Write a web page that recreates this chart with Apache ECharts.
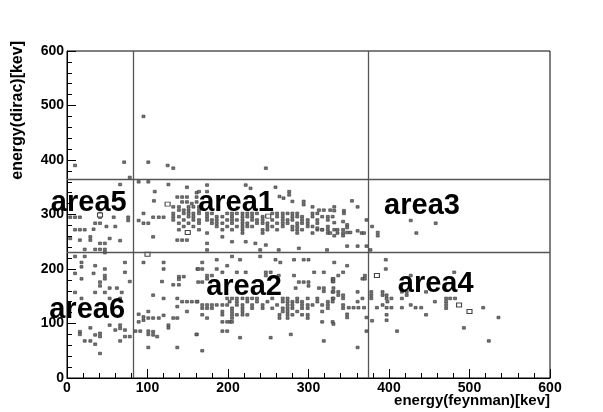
<!DOCTYPE html>
<html>
<head>
<meta charset="utf-8">
<script src="https://cdn.jsdelivr.net/npm/echarts@6/dist/echarts.min.js"></script>
<style>
html,body{margin:0;padding:0;background:#fff;}
#chart{width:603px;height:412px;}
</style>
</head>
<body>
<div id="chart"></div>
<script>
// Axis ranges and tick spacing (keV)
const axisMin = 0;
const axisMax = 600;
const tickStep = 100;

// Selection cuts drawn as lines
const cutFeynman = [82, 374];
const cutDirac = [230, 365];

// Region names and where they are written (keV)
const areaNames = ['area1', 'area2', 'area3', 'area4', 'area5', 'area6'];
const areaNameX = [210, 220, 441, 458, 27, 25];
const areaNameY = [321, 167, 316, 172, 321, 125];

// Occupied bins with one entry: [feynman, dirac] in keV
const singleEvents = [
  // above the upper cut
  [95,480],[10,390],[71,396],[101,396],[125,390],[132,385],[247,385],[78,368],
  // area5
  [66,355],[4,295],[10,295],[16,295],[41,302],[41,295],[58,295],[76,295],[76,289],[35,284],[41,284],
  [10,272],[16,272],[22,272],[33,273],[49,278],[60,278],[4,256],[16,253],[29,259],[29,253],[53,256],
  [66,252],[41,247],[47,247],[22,236],[35,236],[41,236],[47,236],[47,230],
  // area1, left part
  [89,360],[101,360],[126,355],[149,350],[109,342],[161,340],[161,332],[137,332],[143,332],[149,332],
  [108,325],[143,323],[149,323],[155,320],[161,323],[95,302],[107,295],[114,295],[120,295],[89,289],
  [95,284],[101,284],[107,259],[137,253],[143,253],[149,253],
  [132,314],[139,314],[151,314],[157,314],[164,314],
  [139,308],[145,308],[151,308],[164,308],
  [132,302],[145,302],[151,302],[157,302],[164,302],
  [132,296],[139,296],[151,296],[157,296],
  [132,290],[145,290],[157,290],[164,290],
  [139,284],[151,284],[164,284],
  [145,278],[157,278],[139,272],[164,272],
  // area1, centre
  [174,354],[222,354],[228,348],[259,350],[164,342],[174,342],[276,342],[276,336],[264,333],[269,330],
  [280,324],[294,324],[294,318],[305,314],[313,308],[319,308],[327,308],[332,314],
  [174,302],[180,302],[199,302],[205,302],[211,302],[218,302],[224,302],[230,302],[236,302],[255,302],[261,302],[268,302],[274,302],[280,302],[286,302],[305,302],[311,302],
  [174,296],[186,296],[193,296],[205,296],[218,296],[224,296],[230,296],[243,296],[249,296],[261,296],[268,296],[280,296],[286,296],[292,296],[305,296],[317,296],[324,296],[330,296],
  [174,290],[180,290],[186,290],[199,290],[205,290],[211,290],[218,290],[230,290],[236,290],[243,290],[255,290],[268,290],[274,290],[280,290],[292,290],[299,290],[311,290],[324,290],
  [180,284],[186,284],[193,284],[205,284],[218,284],[224,284],[236,284],[243,284],[249,284],[261,284],[268,284],[274,284],[286,284],[292,284],[299,284],[311,284],
  [186,278],[199,278],[211,278],[218,278],[224,278],[230,278],[249,278],[255,278],[268,278],[280,278],[286,278],[299,278],[305,278],[324,278],
  [193,272],[205,272],[218,272],[243,272],[249,272],[261,272],[280,272],[286,272],[292,272],[311,272],[317,272],
  [174,266],[218,266],[243,266],[286,266],[305,266],[324,266],
  [174,247],[193,259],[205,250],[222,250],[234,247],[247,244],[240,235],[174,235],[263,235],[288,238],[323,235],
  [327,266],[324,272],[317,272],[311,275],
  // area1, right part
  [354,325],[361,314],[332,307],[344,307],[344,302],[332,285],[343,287],[348,281],[348,276],
  [332,272],[336,272],[336,266],[343,272],[343,266],[348,267],[352,267],[361,270],[366,266],[369,266],[372,290],
  [332,261],[343,261],[348,242],[361,242],[372,242],[377,235],
  // area3
  [379,278],[386,267],[386,261],[427,289],[458,284],[434,266],
  // area6
  [22,223],[10,223],[18,212],[18,204],[35,206],[47,200],[72,212],[72,194],[33,192],[18,182],[10,192],
  [41,176],[41,169],[47,182],[47,188],[78,177],[53,165],[62,165],[35,157],[47,157],[68,157],[10,157],
  [18,146],[53,146],[66,146],[53,97],[60,88],[66,97],[66,91],[72,88],[72,76],[78,76],[41,82],[41,76],
  [35,79],[16,85],[16,80],[29,92],[22,68],[29,68],[35,62],[41,45],[66,68],
  // area2, left part
  [95,212],[120,212],[120,200],[162,200],[139,186],[145,186],[139,181],[132,171],[139,171],[118,177],
  [137,146],[143,140],[149,140],[155,140],[162,140],[137,131],[107,152],[120,146],[149,122],[89,117],
  [95,112],[95,106],[101,110],[107,110],[114,110],[89,103],[101,122],[120,115],[132,110],[126,97],[126,92],
  [137,110],[85,86],[91,86],[101,86],[101,80],[107,85],[107,79],[112,76],[101,56],[137,56],[161,80],
  // area2, centre
  [168,212],[186,217],[205,223],[215,217],[240,223],[259,217],[265,212],[282,217],[294,217],[300,217],
  [163,200],[168,200],[186,200],[199,206],[193,194],[174,188],[180,188],[174,182],[211,194],[222,194],
  [247,194],[247,188],[253,194],[263,188],[282,188],[307,194],[319,194],[330,182],[330,177],[163,176],
  [168,176],[288,176],[294,176],[300,176],[300,169],[313,165],[319,165],[319,159],[330,158],[284,165],
  [199,146],[205,146],[211,146],[218,146],[224,146],[230,146],[236,146],[255,146],[268,146],[274,146],[286,146],[299,146],[311,146],[330,146],
  [161,140],[202,140],[211,140],[224,140],[236,140],[249,140],[268,140],[274,140],[280,140],[286,140],[292,140],[311,140],[324,140],[330,140],
  [168,134],[174,134],[180,134],[186,134],[193,134],[199,134],[211,134],[218,134],[230,134],[243,134],[261,134],[274,134],[280,134],[292,134],[299,134],[305,134],[317,134],[324,134],
  [168,128],[174,128],[180,128],[205,128],[218,128],[230,128],[243,128],[255,128],[268,128],[274,128],[280,128],[292,128],[299,128],[324,128],
  [193,122],[205,122],[218,122],[268,122],[274,122],[286,122],[317,122],
  [168,116],[193,116],[205,116],[211,116],[218,116],[224,116],[264,116],[274,116],[280,116],[292,116],[299,116],
  [174,110],[205,110],[264,110],[274,110],[299,110],
  [193,103],[199,103],[203,103],[205,103],[317,103],[330,103],
  [193,86],[199,86],[161,80],[215,74],[253,74],[278,80],[319,68],[168,50],
  // area2, right part
  [332,212],[348,206],[343,194],[337,188],[331,182],[331,177],[367,182],[370,188],[370,182],
  [331,165],[331,158],[337,158],[337,152],[343,152],[343,146],[331,146],[361,158],[367,146],[361,140],
  [343,134],[343,128],[350,129],[356,129],[362,129],[369,129],[348,117],[348,111],[331,99],[372,111],
  [372,86],[361,56],
  // area4
  [396,217],[396,200],[427,188],[481,194],[378,158],[378,152],[378,146],[392,158],[392,152],[397,152],
  [397,146],[403,146],[416,158],[416,146],[422,152],[422,158],[446,158],[457,140],[471,146],[476,146],
  [482,146],[471,140],[471,134],[471,128],[427,134],[433,129],[440,129],[416,129],[392,134],[397,129],
  [403,129],[385,129],[398,140],[379,105],[397,116],[397,106],[446,116],[517,129],[536,111],[493,92],
  [524,68],[410,86]
];

// Occupied bins with two entries: [feynman, dirac] in keV
const doubleEvents = [
  [125,319],[150,267],[385,188],[487,134],[500,122],[41,299],[100,227],[250,297]
];

const chart = echarts.init(document.getElementById('chart'), null, {renderer: 'canvas'});

const tickFont = {fontFamily: 'Liberation Sans', fontWeight: 'bold', fontSize: 14, color: '#000'};
const titleStyle = {fontFamily: 'Liberation Sans', fontWeight: 'bold', fontSize: 15, fill: '#000'};

function valueAxis(extra) {
  return Object.assign({
    type: 'value',
    min: axisMin,
    max: axisMax,
    interval: tickStep,
    axisLine: {show: true, onZero: false, lineStyle: {color: '#000', width: 1}},
    axisTick: {show: true, inside: true, length: 9, lineStyle: {color: '#000', width: 1}},
    minorTick: {show: true, splitNumber: 5, length: 5, lineStyle: {color: '#000', width: 1}},
    splitLine: {show: false},
    axisLabel: Object.assign({margin: 3}, tickFont)
  }, extra);
}

const cutLines = [];
cutFeynman.forEach(v => cutLines.push({xAxis: v}));
cutDirac.forEach(v => cutLines.push({yAxis: v}));

chart.setOption({
  animation: false,
  backgroundColor: '#fff',
  grid: {left: 67, right: 53, top: 51, bottom: 34, show: true, borderColor: '#000', borderWidth: 1, backgroundColor: '#fff'},
  xAxis: valueAxis({}),
  yAxis: valueAxis({}),
  graphic: [
    {type: 'text', right: 53, top: 393,
     style: Object.assign({text: 'energy(feynman)[kev]'}, titleStyle)},
    {type: 'text', x: 18, y: 41, rotation: Math.PI / 2,
     style: Object.assign({text: 'energy(dirac)[kev]', align: 'right', verticalAlign: 'middle'}, titleStyle, {fontSize: 16})}
  ],
  series: [
    {
      type: 'scatter',
      name: 'single',
      data: singleEvents,
      symbol: 'rect',
      symbolSize: [3, 2.6],
      itemStyle: {color: '#777', borderColor: '#333', borderWidth: 0.6, opacity: 1},
      silent: true,
      z: 2,
      markLine: {
        silent: true,
        symbol: 'none',
        label: {show: false},
        lineStyle: {color: '#555', width: 1.3, type: 'solid'},
        data: cutLines
      }
    },
    {
      type: 'scatter',
      name: 'double',
      data: doubleEvents,
      symbol: 'rect',
      symbolSize: [5, 4],
      itemStyle: {color: '#fff', borderColor: '#444', borderWidth: 1, opacity: 1},
      silent: true,
      z: 2
    },
    {
      type: 'scatter',
      name: 'areas',
      data: areaNames.map((n, i) => ({value: [areaNameX[i], areaNameY[i]], name: n})),
      symbolSize: 0,
      silent: true,
      clip: false,
      z: 5,
      itemStyle: {opacity: 1},
      label: {
        show: true, position: 'inside', formatter: p => p.name,
        fontFamily: 'Liberation Sans', fontWeight: 'bold', fontSize: 29, color: '#000',
        textBorderWidth: 0, textBorderColor: 'transparent'
      }
    }
  ]
});
</script>
</body>
</html>
